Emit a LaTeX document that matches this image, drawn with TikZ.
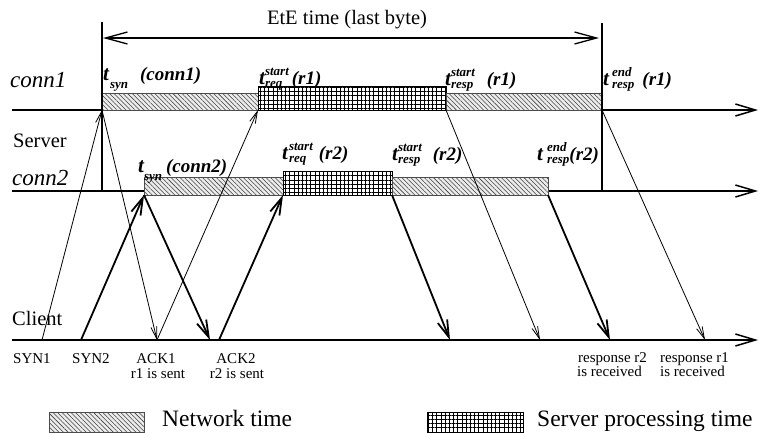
\documentclass[tikz,border=0pt]{standalone}
\usepackage{fontspec}
\setmainfont{Liberation Serif}
\usetikzlibrary{arrows.meta,patterns.meta}
\newcommand\bigt{{\fontsize{21}{21}\selectfont t}}
\newcommand\tlab[5]{{\bfseries\itshape \bigt\kern#1%
  \setbox0\hbox{\fontsize{13}{13}\selectfont #2}%
  \setbox2\hbox{\fontsize{13}{13}\selectfont #3}%
  \ifdim\wd0>\wd2 \dimen0=\wd0 \else \dimen0=\wd2 \fi
  \rlap{\raisebox{9pt}{\box0}}\rlap{\raisebox{-3pt}{\box2}}\kern\dimen0\kern#4(#5)}}
\newcommand\tsynlab[3]{{\bfseries\itshape \bigt\kern#1\raisebox{-8pt}{\fontsize{13}{13}\selectfont syn}\kern#2(#3)}}
\tikzset{
  axisline/.style={line width=1.5pt,-{Straight Barb[length=20pt,width=12pt]}},
  vline/.style={line width=1.3pt},
  thinmsg/.style={line width=0.8pt,-{Straight Barb[length=12pt,width=6pt]}},
  thickmsg/.style={line width=1.8pt,-{Straight Barb[length=17pt,width=10pt]}},
  netbar/.style={draw=gray!60!black,line width=0.8pt,preaction={fill=gray!15},
    pattern={Lines[angle=-45,distance=3.2pt,line width=0.55pt]},pattern color=gray!50!black},
  procbar/.style={draw=black,line width=1pt,preaction={fill=white},
    pattern={Hatch[distance=4.2pt,line width=1pt]},pattern color=black},
  tl/.style={inner sep=0pt,anchor=base west,font=\fontsize{19}{19}\selectfont},
  lane/.style={inner sep=0pt,anchor=base west,font=\fontsize{23}{23}\selectfont\itshape},
  side/.style={inner sep=0pt,anchor=base west,font=\fontsize{20.5}{20.5}\selectfont},
  evt/.style={inner sep=0pt,anchor=base,font=\fontsize{15}{15}\selectfont},
  evtw/.style={inner sep=0pt,anchor=base west,font=\fontsize{15}{15}\selectfont},
  leg/.style={inner sep=0pt,anchor=base west,font=\fontsize{23.5}{23.5}\selectfont},
}
\begin{document}
\begin{tikzpicture}[x=1pt,y=-1pt]
\useasboundingbox (0,0) rectangle (761,432);
% time lines
\coordinate (c1a) at (12,110); \coordinate (c1b) at (758,110);
\coordinate (c2a) at (12,191); \coordinate (c2b) at (758,191);
\coordinate (cla) at (12,340); \coordinate (clb) at (758,340);
\draw[axisline] (c1a) -- (c1b);
\draw[axisline] (c2a) -- (c2b);
\draw[axisline] (cla) -- (clb);
% bars conn1
\draw[netbar] (102,93) rectangle (258,110);
\draw[procbar] (258,86) rectangle (446,110);
\draw[netbar] (446,93) rectangle (602,110);
% bars conn2
\draw[netbar] (144,177) rectangle (283,195);
\draw[procbar] (283,171) rectangle (392,195);
\draw[netbar] (392,177) rectangle (548,195);
% vertical markers
\coordinate (v1t) at (102,22); \coordinate (v1b) at (102,191);
\coordinate (v2t) at (602,23); \coordinate (v2b) at (602,191);
\draw[vline] (v1t) -- (v1b);
\draw[vline] (v2t) -- (v2b);
% EtE
\coordinate (e1) at (103,38); \coordinate (e2) at (599,38);
\draw[line width=1.3pt,{Straight Barb[length=22pt,width=12pt]}-{Straight Barb[length=22pt,width=12pt]}] (e1) -- (e2);
\node[inner sep=0pt,anchor=base,font=\fontsize{20.5}{20.5}\selectfont] (ete) at (347,24) {EtE time (last byte)};
% event points
\coordinate (A1) at (102,110); \coordinate (B1) at (258,110);
\coordinate (C1) at (446,110); \coordinate (D1) at (602,110);
\coordinate (A2) at (144,195); \coordinate (B2) at (283,195);
\coordinate (C2) at (392,195); \coordinate (D2) at (548,195);
\coordinate (s1) at (42,340); \coordinate (s2) at (81,340);
\coordinate (k1) at (157,340); \coordinate (k2a) at (210,340);
\coordinate (k2) at (219,340);
\coordinate (r2s) at (450,340); \coordinate (r1s) at (540,340);
\coordinate (r2e) at (610,340); \coordinate (r1e) at (705,340);
% messages
\draw[thinmsg] (s1) -- (A1);
\draw[thinmsg] (A1) -- (k1);
\draw[thinmsg] (k1) -- (B1);
\draw[thinmsg] (C1) -- (r1s);
\draw[thinmsg] (D1) -- (r1e);
\draw[thickmsg] (s2) -- (A2);
\draw[thickmsg] (A2) -- (k2a);
\draw[thickmsg] (k2) -- (B2);
\draw[thickmsg] (C2) -- (r2s);
\draw[thickmsg] (D2) -- (r2e);
% lane labels
\node[lane] (lc1) at (10,87) {conn1};
\node[side] (lsrv) at (13,147) {Server};
\node[lane] (lc2) at (12,185) {conn2};
\node[side] (lcli) at (12,325) {Client};
% time labels
\node[tl] (L1) at (103,80) {\tsynlab{1pt}{12pt}{conn1}};
\node[tl] (L2) at (259,84) {\tlab{0pt}{start}{req}{3pt}{r1}};
\node[tl] (L3) at (445,85) {\tlab{0pt}{start}{resp}{12pt}{r1}};
\node[tl] (L4) at (603,85) {\tlab{3pt}{end}{resp}{8pt}{r1}};
\node[tl] (L5) at (138,172) {\tsynlab{0pt}{4pt}{conn2}};
\node[tl] (L6) at (282,159) {\tlab{1pt}{start}{req}{6pt}{r2}};
\node[tl] (L7) at (392,160) {\tlab{0pt}{start}{resp}{11pt}{r2}};
\node[tl] (L8) at (537,160) {\tlab{4pt}{end}{resp}{0pt}{r2}};
% client labels
\node[evtw] (t1) at (13,363) {SYN1};
\node[evtw] (t2) at (72,363) {SYN2};
\node[evt] (t3) at (156,363) {ACK1};
\node[evt] (t4) at (158,378) {r1 is sent};
\node[evt] (t5) at (236,363) {ACK2};
\node[evt] (t6) at (237,378) {r2 is sent};
\node[evtw] (t7) at (578,362) {response r2};
\node[evtw] (t8) at (577,376) {is received};
\node[evtw] (t9) at (660,362) {response r1};
\node[evtw] (t10) at (660,376) {is received};
% legend
\draw[netbar] (49,412) rectangle (144,432.5);
\node[leg] (g1) at (162,426.5) {Network time};
\draw[procbar] (427,412) rectangle (523,432.5);
\node[leg] (g2) at (537,426.5) {Server processing time};
\end{tikzpicture}
\end{document}
